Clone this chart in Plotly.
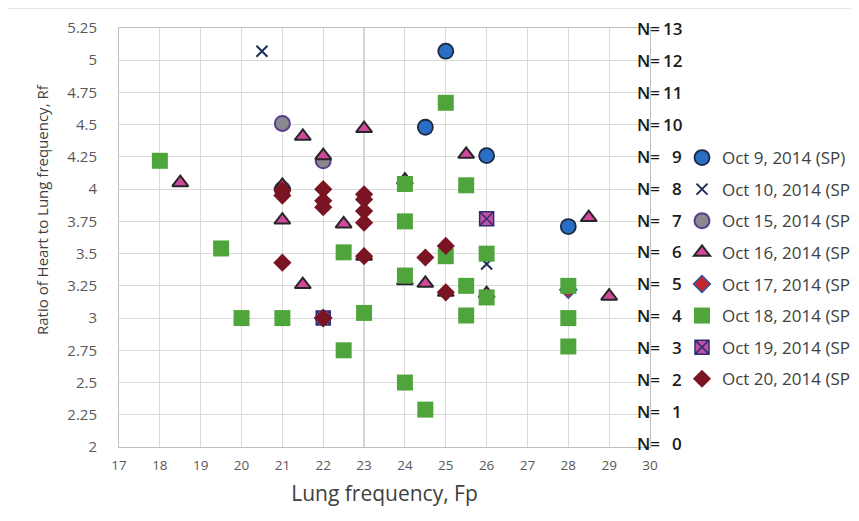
import plotly.graph_objects as go

# ---------------- data ----------------
oct9_x = [25, 24.5, 26, 28]
oct9_y = [5.07, 4.48, 4.26, 3.71]

oct10_x = [20.5, 26]
oct10_y = [5.07, 3.42]

oct15_x = [21, 22, 21]
oct15_y = [4.51, 4.22, 4.0]

oct16_x = [18.5, 21.5, 22, 23, 21, 24, 25.5, 21, 22.5, 28.5, 21.5, 23, 24, 24.5, 25, 26, 29]
oct16_y = [4.05, 4.41, 4.26, 4.47, 4.03, 4.07, 4.27, 3.76, 3.73, 3.78, 3.26, 3.48, 3.29, 3.27, 3.2, 3.19, 3.17]

oct17_x = [22, 28]
oct17_y = [3.0, 3.22]

oct18_x = [18, 25, 24, 25.5, 24, 19.5, 22.5, 25, 26, 24, 25.5, 26, 25.5, 28, 28, 28, 20, 21, 23, 22.5, 24, 24.5]
oct18_y = [4.22, 4.67, 4.04, 4.03, 3.75, 3.54, 3.51, 3.48, 3.5, 3.33, 3.25, 3.16, 3.02, 3.25, 3.0, 2.78, 3.0, 3.0, 3.04, 2.75, 2.5, 2.29]

oct19_x = [26, 22]
oct19_y = [3.77, 3.0]

oct20_x = [21, 21, 22, 22, 22, 23, 23, 23, 23, 21, 23, 24.5, 25, 25, 22]
oct20_y = [3.99, 3.95, 4.0, 3.91, 3.86, 3.96, 3.92, 3.83, 3.74, 3.43, 3.48, 3.47, 3.56, 3.2, 3.0]

x_ticks = list(range(17, 31))
x_tick_labels = [str(v) for v in x_ticks]
y_ticks = [2, 2.25, 2.5, 2.75, 3, 3.25, 3.5, 3.75, 4, 4.25, 4.5, 4.75, 5, 5.25]
y_tick_labels = ["2", "2.25", "2.5", "2.75", "3", "3.25", "3.5", "3.75", "4", "4.25", "4.5", "4.75", "5", "5.25"]
n_labels = ["0", "1", "2", "3", "4", "5", "6", "7", "8", "9", "10", "11", "12", "13"]

series = [
    ("Oct 9, 2014 (SP)", oct9_x, oct9_y, dict(symbol="circle", size=15, color="#2a6ec6", line=dict(color="#1c2840", width=1.8))),
    ("Oct 10, 2014 (SP)", oct10_x, oct10_y, dict(symbol="x-thin", size=11, color="#1f2d5a", line=dict(color="#1f2d5a", width=2))),
    ("Oct 15, 2014 (SP)", oct15_x, oct15_y, dict(symbol="circle", size=15, color="#8a8a8e", line=dict(color="#5a3b8e", width=2))),
    ("Oct 16, 2014 (SP)", oct16_x, oct16_y, dict(symbol="triangle-up", size=14, color="#d2489e", line=dict(color="#262626", width=2))),
    ("Oct 17, 2014 (SP)", oct17_x, oct17_y, dict(symbol="diamond", size=13, color="#c4262e", line=dict(color="#2f55a0", width=1.5))),
    ("Oct 18, 2014 (SP)", oct18_x, oct18_y, dict(symbol="square", size=16, color="#4fa53c", line=dict(width=0))),
    ("Oct 19, 2014 (SP)", oct19_x, oct19_y, dict(symbol="square-x", size=14, color="#c24fa6", line=dict(color="#2b2f6e", width=1.5))),
    ("Oct 20, 2014 (SP)", oct20_x, oct20_y, dict(symbol="diamond", size=14, color="#7a1422", line=dict(width=0))),
]

fig = go.Figure()
for i, (name, xs, ys, mk) in enumerate(series):
    fig.add_trace(go.Scatter(x=xs, y=ys, mode="markers", name=name, marker=mk,
                             legendgroup=f"g{i}", cliponaxis=False))

# page offset (browser body margin)
O = 8
# target pixel positions (in screenshot) of plot area
L, R, T, B = 119, 650, 28, 447
PW, PH = R - L, B - T

def px_x(p):
    return (p - L) / PW

def px_y(p):
    return (B - p) / PH

grid_col = "#d9d9d9"
base_font = "Open Sans, Lato, sans-serif"

fig.update_layout(
    width=859, height=521, autosize=False,
    margin=dict(l=L - O, r=859 - (R - O), t=T - O, b=521 - (B - O), autoexpand=False),
    paper_bgcolor="white", plot_bgcolor="white",
    showlegend=True,
    legend=dict(
        x=px_x(682), xanchor="left", y=px_y(140), yanchor="top",
        font=dict(family=base_font, size=17, color="#404040"),
        traceorder="grouped", tracegroupgap=6.5, itemwidth=30,
        bgcolor="rgba(0,0,0,0)",
    ),
    xaxis=dict(
        range=[17, 30], tickvals=x_ticks, ticktext=x_tick_labels,
        showgrid=True, gridcolor=grid_col, gridwidth=1,
        showline=True, linecolor="#bfbfbf", mirror=True, zeroline=False,
        tickfont=dict(family=base_font, size=13.5, color="#595959"), ticks="", ticklabelstandoff=6,
        title=dict(text="Lung frequency, Fp", font=dict(family=base_font, size=21, color="#404040"), standoff=13),
    ),
    yaxis=dict(
        range=[2, 5.25], tickvals=y_ticks, ticktext=y_tick_labels,
        showgrid=True, gridcolor=grid_col, gridwidth=1,
        showline=True, linecolor="#bfbfbf", mirror=True, zeroline=False,
        tickfont=dict(family=base_font, size=15, color="#595959"), ticks="", ticklabelstandoff=18,
    ),
)

# y-axis title
fig.add_annotation(xref="paper", yref="paper", x=px_x(42), y=px_y(210),
                   text="Ratio of Heart to Lung frequency, Rf", textangle=-90,
                   showarrow=False, xanchor="center", yanchor="middle",
                   font=dict(family=base_font, size=15, color="#404040"))

# darker vertical line at x = 23
fig.add_shape(type="line", xref="x", yref="paper", x0=23, x1=23, y0=0, y1=1,
              line=dict(color="#a9a9a9", width=1.2), layer="below")

# outer chart border
fig.add_shape(type="rect", xref="paper", yref="paper",
              x0=px_x(7), x1=px_x(900), y0=px_y(560), y1=px_y(8),
              line=dict(color="#d0d0d0", width=1.2), fillcolor="rgba(0,0,0,0)", layer="below")

# right-hand N labels (text box beside the plot)
n_font = dict(family=base_font, size=17, color="#1a1a1a", weight=600)
for k, (yv, nl) in enumerate(zip(y_ticks, n_labels)):
    shift = 4 - 0.38 * k
    fig.add_annotation(xref="paper", yref="y", x=px_x(635), y=yv, text="N=", yshift=shift,
                       xanchor="left", yanchor="middle", showarrow=False, font=n_font)
    fig.add_annotation(xref="paper", yref="y", x=px_x(684), y=yv, text=nl, yshift=shift,
                       xanchor="right", yanchor="middle", showarrow=False, font=n_font)

fig.write_html("out.html")
